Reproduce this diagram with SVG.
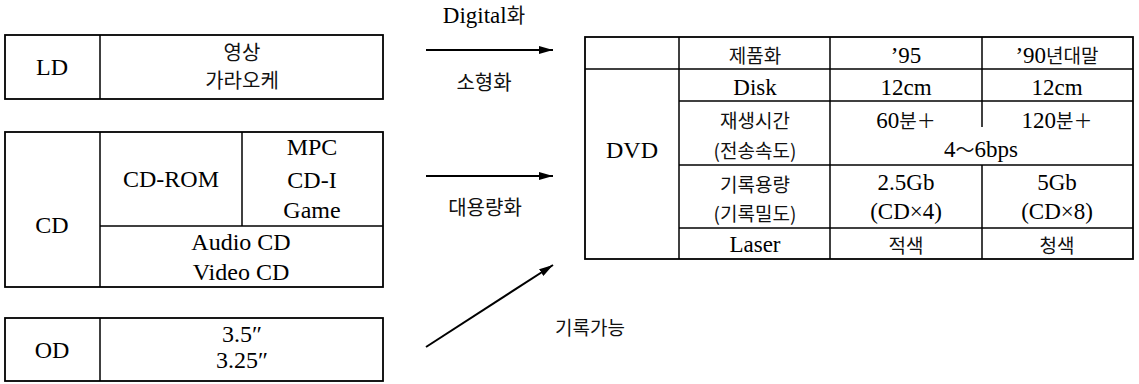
<svg xmlns="http://www.w3.org/2000/svg" width="1139" height="384" viewBox="0 0 1139 384">
<style>
.box{fill:none;stroke:#000;stroke-width:1.8}
.ln{stroke:#000;stroke-width:1.5;fill:none}
.t{font-family:'Liberation Serif','Times New Roman','DejaVu Serif',serif;font-size:24px;fill:#000;text-anchor:middle}
.k{font-family:'Noto Sans CJK KR',sans-serif;font-size:20px;fill:#111;text-anchor:middle}
.tt{font-family:'Liberation Serif','Times New Roman','DejaVu Serif',serif;font-size:23px;fill:#000;text-anchor:middle}
.tk{font-family:'Noto Sans CJK KR',sans-serif;font-size:19px;fill:#111;text-anchor:middle}
.conn{stroke:#000;stroke-width:2;fill:none}
</style>
<defs>
<marker id="ah" viewBox="0 0 14 8" refX="14" refY="4" markerWidth="14" markerHeight="8" markerUnits="userSpaceOnUse" orient="auto">
<path d="M0,0 L14,4 L0,8 Z" fill="#000"/>
</marker>
</defs>
<rect width="1139" height="384" fill="#fff"/>

<g id="node-ld">
<rect class="box" x="5" y="35" width="378" height="64"/>
<line class="ln" x1="100" y1="35" x2="100" y2="99"/>
<text class="t" x="52" y="75">LD</text>
<text class="k" x="242" y="60">영상</text>
<text class="k" x="242" y="88">가라오케</text>
</g>

<g id="node-cd">
<rect class="box" x="5" y="132" width="378" height="155"/>
<line class="ln" x1="100" y1="132" x2="100" y2="287"/>
<line class="ln" x1="242" y1="132" x2="242" y2="226"/>
<line class="ln" x1="100" y1="226" x2="383" y2="226"/>
<text class="t" x="52" y="233">CD</text>
<text class="t" x="171" y="187">CD-ROM</text>
<text class="t" x="312" y="155">MPC</text>
<text class="t" x="312" y="188">CD-I</text>
<text class="t" x="312" y="218">Game</text>
<text class="t" x="241" y="250">Audio CD</text>
<text class="t" x="241" y="280">Video CD</text>
</g>

<g id="node-od">
<rect class="box" x="5" y="318" width="378" height="63"/>
<line class="ln" x1="100" y1="318" x2="100" y2="381"/>
<text class="t" x="52" y="358">OD</text>
<text class="t" x="242" y="342">3.5″</text>
<text class="t" x="242" y="368">3.25″</text>
</g>

<g id="connectors">
<line class="conn" x1="426" y1="50" x2="553" y2="50" marker-end="url(#ah)"/>
<line class="conn" x1="426" y1="176" x2="553" y2="176" marker-end="url(#ah)"/>
<line class="conn" x1="426" y1="347" x2="553" y2="265" marker-end="url(#ah)"/>
<text class="t" x="484" y="23" style="font-size:23px">Digital<tspan class="k" style="font-size:20px">화</tspan></text>
<text class="k" x="484" y="90">소형화</text>
<text class="k" x="485" y="215">대용량화</text>
<text class="k" x="555" y="335" style="text-anchor:start;font-size:19px">기록가능</text>
</g>

<g id="node-dvd">
<rect class="box" x="585" y="37" width="548" height="222"/>
<line class="ln" x1="679" y1="37" x2="679" y2="259"/>
<line class="ln" x1="830" y1="37" x2="830" y2="259"/>
<line class="ln" x1="982" y1="37" x2="982" y2="127"/>
<line class="ln" x1="982" y1="165" x2="982" y2="259"/>
<line class="ln" x1="585" y1="69" x2="1133" y2="69"/>
<line class="ln" x1="679" y1="101" x2="1133" y2="101"/>
<line class="ln" x1="679" y1="165" x2="1133" y2="165"/>
<line class="ln" x1="679" y1="228" x2="1133" y2="228"/>
<text class="tk" x="755" y="63">제품화</text>
<text class="tt" x="906" y="63">’95</text>
<text class="tt" x="1057" y="63">’90<tspan class="tk">년대말</tspan></text>
<text class="tt" x="632" y="158" style="font-size:24px">DVD</text>
<text class="tt" x="755" y="95">Disk</text>
<text class="tt" x="906" y="95">12cm</text>
<text class="tt" x="1057" y="95">12cm</text>
<text class="tk" x="755" y="128">재생시간</text>
<text class="tk" x="755" y="158">(전송속도)</text>
<text class="tt" x="906" y="128">60<tspan class="tk">분＋</tspan></text>
<text class="tt" x="1057" y="128">120<tspan class="tk">분＋</tspan></text>
<text class="tt" x="981" y="157">4<tspan class="tk">～</tspan>6bps</text>
<text class="tk" x="755" y="192">기록용량</text>
<text class="tk" x="755" y="221">(기록밀도)</text>
<text class="tt" x="906" y="190">2.5Gb</text>
<text class="tt" x="906" y="219">(CD×4)</text>
<text class="tt" x="1057" y="190">5Gb</text>
<text class="tt" x="1057" y="219">(CD×8)</text>
<text class="tt" x="755" y="252">Laser</text>
<text class="tk" x="906" y="253">적색</text>
<text class="tk" x="1057" y="253">청색</text>
</g>
</svg>
